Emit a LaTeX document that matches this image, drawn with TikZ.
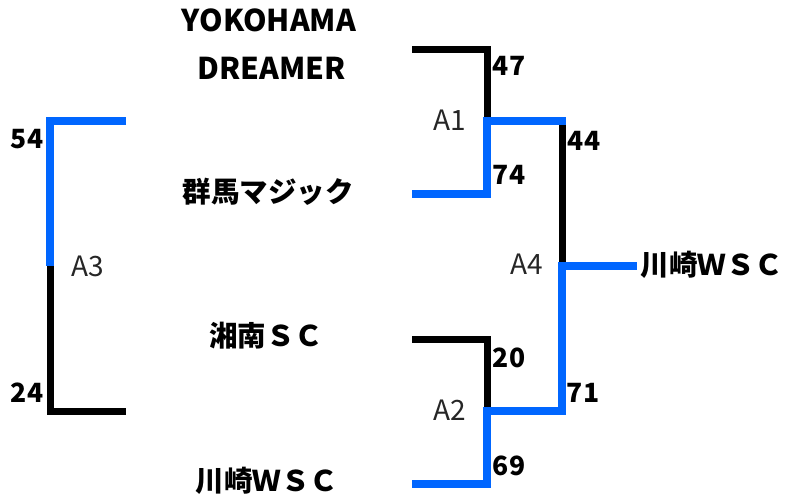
\documentclass[tikz,border=0pt]{standalone}
\usepackage{fontspec}
\setmainfont{Noto Sans CJK JP}
\definecolor{winblue}{HTML}{0066FF}
\tikzset{
  blk/.style={draw=black,line width=7pt,line join=miter,line cap=butt},
  blu/.style={draw=winblue,line width=8pt,line join=miter,line cap=butt},
  team/.style={font=\fontsize{28.5}{32}\selectfont\bfseries,inner sep=0pt,anchor=center},
  teamlat/.style={font=\fontsize{30}{34}\selectfont\bfseries,inner sep=0pt,anchor=center},
  score/.style={font=\fontsize{26.5}{30}\selectfont\bfseries,inner sep=0pt,anchor=center},
  match/.style={font=\fontsize{28}{32}\selectfont,text=black!85,inner sep=0pt,anchor=center}
}
\begin{document}
\begin{tikzpicture}[x=1pt,y=-1pt]
\useasboundingbox (0,0) rectangle (787,499);
% coordinates
\coordinate (a1t) at (412,49);
\coordinate (a1c) at (487,49);
\coordinate (a1m) at (487,121);
\coordinate (a1b) at (412,194);
\coordinate (a1bc) at (487,194);
\coordinate (a4t) at (566,121);
\coordinate (a4tv) at (562,121);
\coordinate (a4m) at (562,266);
\coordinate (win) at (637,266);
\coordinate (a2t) at (412,339);
\coordinate (a2c) at (487,339);
\coordinate (a2m) at (487,411);
\coordinate (a2b) at (412,484);
\coordinate (a2bc) at (487,484);
\coordinate (a4b) at (562,411);
\coordinate (a3t) at (126,121);
\coordinate (a3tc) at (50,121);
\coordinate (a3m) at (50,266);
\coordinate (a3bc) at (50,411);
\coordinate (a3b) at (126,411);
% black paths
\draw[blk] (a1t) -- (a1c) -- (a1m);
\draw[blk] (a2t) -- (a2c) -- (a2m);
\draw[blk] (a4tv) -- (a4m);
\draw[blk] (a3m) -- (a3bc) -- (a3b);
% blue paths
\draw[blu] (a1b) -- (a1bc) -- (a1m) -- (a4t);
\draw[blu] (a2b) -- (a2bc) -- (a2m) -- (a4b) -- (a4m) -- (win);
\draw[blu] (a3t) -- (a3tc) -- (a3m);
% team names
\node[teamlat] (t1a) at (269,20) {YOKOHAMA};
\node[teamlat] (t1b) at (272,68) {DREAMER};
\node[team] (t2) at (268,192) {群馬マジック};
\node[team] (t3) at (266,336) {湘南ＳＣ};
\node[team] (t4) at (267,481) {川崎ＷＳＣ};
\node[team] (tw) at (712,265) {川崎ＷＳＣ};
% scores
\node[score] (s47) at (509,66) {47};
\node[score] (s74) at (509,175) {74};
\node[score] (s44) at (584,141) {44};
\node[score] (s20) at (509,358) {20};
\node[score] (s69) at (509,466) {69};
\node[score] (s71) at (583,393) {71};
\node[score] (s54) at (27,139) {54};
\node[score] (s24) at (27,393) {24};
% match labels
\node[match] (m1) at (450,120) {A1};
\node[match] (m2) at (450,410) {A2};
\node[match] (m3) at (88,266) {A3};
\node[match] (m4) at (527,264) {A4};
\end{tikzpicture}
\end{document}
